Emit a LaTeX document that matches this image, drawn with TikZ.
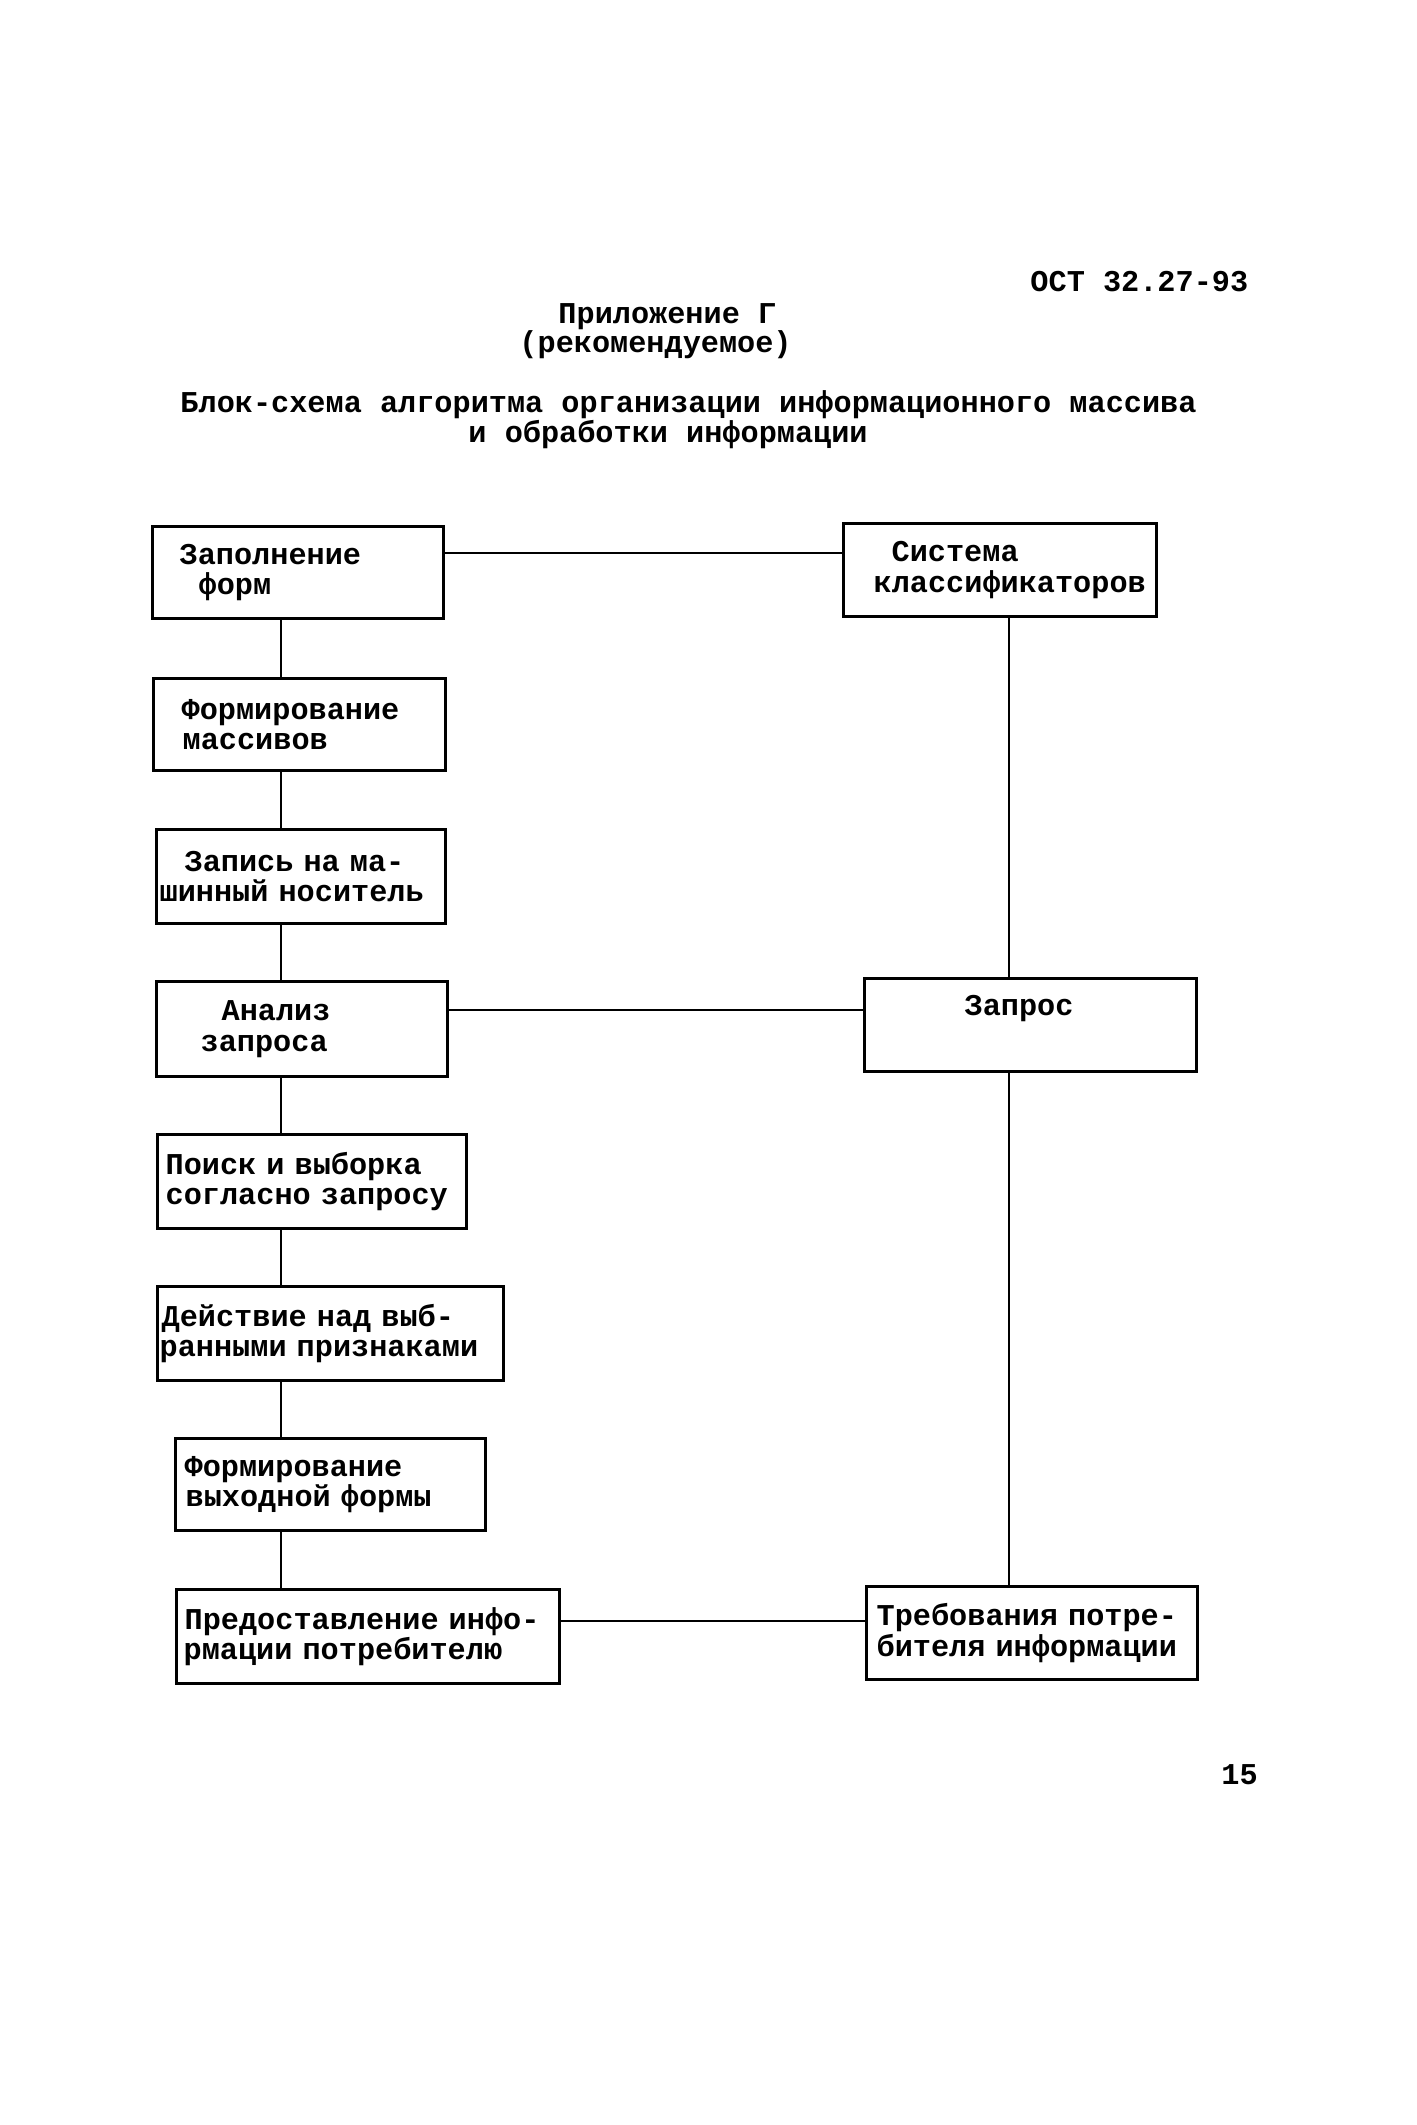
\documentclass[tikz,border=0pt]{standalone}
\usepackage{fontspec}
\setmainfont{Liberation Mono}
\usetikzlibrary{positioning}
\newdimen\pxd \pxd=0.1482mm
\newcommand{\otst}[1]{\hspace*{#1\pxd}}

\begin{document}
\begin{tikzpicture}[x=0.1482mm, y=-0.1482mm,
	font=\fontsize{12.75}{12.9}\selectfont\bfseries,
	blok/.style={draw, line width=1.4pt, anchor=north west, align=left, inner sep=0pt},
	sz/.style 2 args={minimum width=#1*\pxd, text width=#1*\pxd, minimum height=#2*\pxd},
	txt/.style={anchor=base west, inner sep=0pt}, lin/.style={line width=1.2pt}]
	\useasboundingbox (0,0) rectangle (1417,2125);
	% header
	\node[txt] (ost) at (1030, 291) {ОСТ 32.27-93};
	\node[txt] (pril) at (558, 323) {Приложение Г};
	\node[txt] (rek) at (519, 352) {(рекомендуемое)};
	\node[txt] (zag1) at (180, 412) {Блок-схема алгоритма организации информационного массива};
	\node[txt] (zag2) at (468, 442) {и обработки информации};
	\node[txt] (str) at (1221, 1784) {15};
	% blocks
	\node[blok, sz={291}{92}] (1) at (151, 525) {\otst{27}Заполнение\\\otst{46}форм};
	\node[blok, sz={313}{93}] (2) at (842, 522) {\otst{48}Система\\\otst{30}классификаторов};
	\node[blok, sz={292}{92}] (3) at (152, 677) {\otst{28}Формирование\\\otst{29}массивов};
	\node[blok, sz={289}{94}] (4) at (155, 828) {\otst{28}Запись на ма-\\\otst{3}шинный носитель};
	\node[blok, sz={291}{95}] (5) at (155, 980) {\otst{65}Анализ\\\otst{44}запроса};
	\node[blok, sz={332}{93}] (6) at (863, 977) {\otst{100}Запрос\\\strut};
	\node[blok, sz={309}{94}] (7) at (156, 1133) {\otst{8}Поиск и выборка\\\otst{8}согласно запросу};
	\node[blok, sz={346}{94}] (8) at (156, 1285) {\otst{4}Действие над выб-\\\otst{2}ранными признаками};
	\node[blok, sz={310}{92}] (9) at (174, 1437) {\otst{9}Формирование\\\otst{10}выходной формы};
	\node[blok, sz={383}{94}] (10) at (175, 1588) {\otst{8}Предоставление инфо-\\\otst{7}рмации потребителю};
	\node[blok, sz={331}{93}] (11) at (865, 1585) {\otst{10}Требования потре-\\\otst{10}бителя информации};
	% lines
	\coordinate (L) at (281, 0);
	\coordinate (R) at (1009, 0);
	\foreach \a/\b in {1/3, 3/4, 4/5, 5/7, 7/8, 8/9, 9/10}
		\draw[lin] (\a.south -| L) to (\b.north -| L);
	\draw[lin] (2.south -| R) to (6.north -| R);
	\draw[lin] (6.south -| R) to (11.north -| R);
	\coordinate (A) at (0, 553);
	\coordinate (B) at (0, 1010);
	\coordinate (C) at (0, 1621);
	\draw[lin] (1.east |- A) to (2.west |- A);
	\draw[lin] (5.east |- B) to (6.west |- B);
	\draw[lin] (10.east |- C) to (11.west |- C);
\end{tikzpicture}
\end{document}
